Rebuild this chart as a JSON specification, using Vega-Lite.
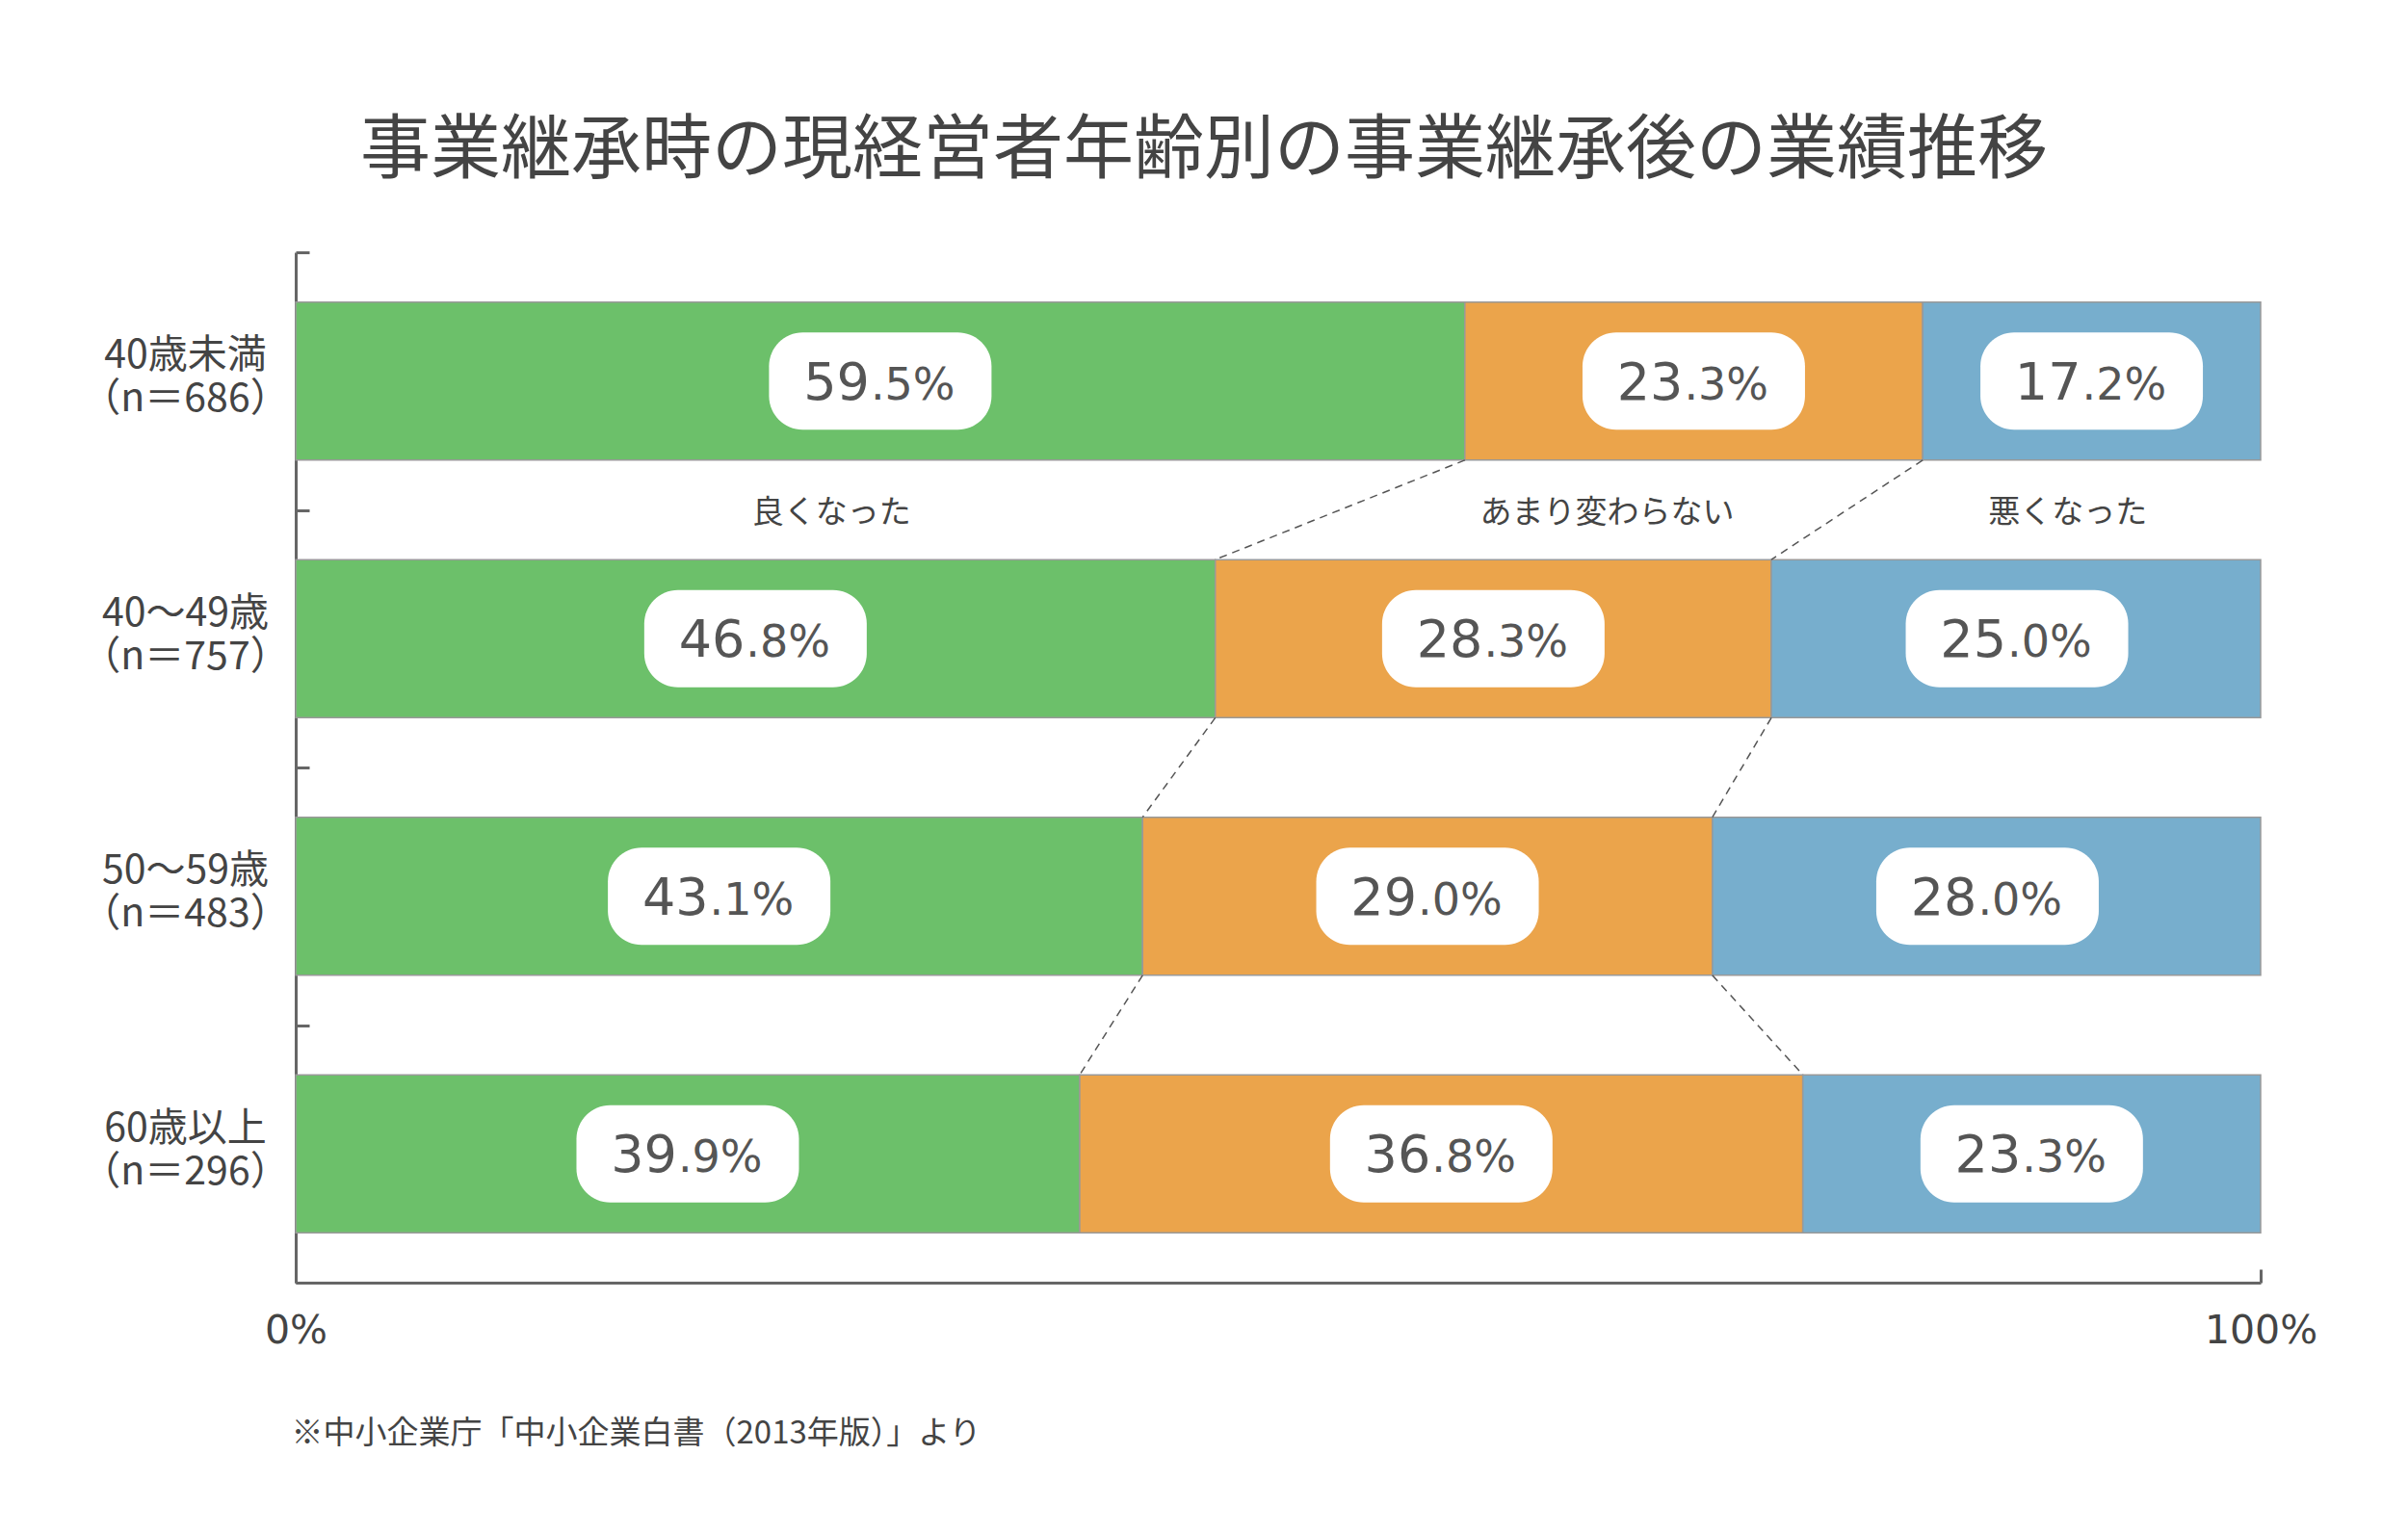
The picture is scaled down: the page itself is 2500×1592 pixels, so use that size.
{
  "$schema": "https://vega.github.io/schema/vega-lite/v6.json",
  "width": 2040,
  "height": 1070,
  "autosize": {"type": "none"},
  "padding": {"left": 307, "top": 262, "right": 153, "bottom": 260},
  "background": "white",
  "title": {
    "text": "事業継承時の現経営者年齢別の事業継承後の業績推移",
    "font": "Noto Sans CJK JP",
    "fontSize": 73,
    "fontWeight": "normal",
    "color": "#444444",
    "anchor": "middle",
    "dx": -77,
    "offset": -26,
    "baseline": "bottom"
  },
  "config": {"view": {"stroke": null}, "font": "Noto Sans CJK JP"},
  "data": {
    "values": [
      {"group": "40歳未満\n（n＝686）", "cat": "良くなった", "co": 1, "value": 59.5},
      {"group": "40歳未満\n（n＝686）", "cat": "あまり変わらない", "co": 2, "value": 23.3},
      {"group": "40歳未満\n（n＝686）", "cat": "悪くなった", "co": 3, "value": 17.2},
      {"group": "40～49歳\n（n＝757）", "cat": "良くなった", "co": 1, "value": 46.8},
      {"group": "40～49歳\n（n＝757）", "cat": "あまり変わらない", "co": 2, "value": 28.3},
      {"group": "40～49歳\n（n＝757）", "cat": "悪くなった", "co": 3, "value": 25.0},
      {"group": "50～59歳\n（n＝483）", "cat": "良くなった", "co": 1, "value": 43.1},
      {"group": "50～59歳\n（n＝483）", "cat": "あまり変わらない", "co": 2, "value": 29.0},
      {"group": "50～59歳\n（n＝483）", "cat": "悪くなった", "co": 3, "value": 28.0},
      {"group": "60歳以上\n（n＝296）", "cat": "良くなった", "co": 1, "value": 39.9},
      {"group": "60歳以上\n（n＝296）", "cat": "あまり変わらない", "co": 2, "value": 36.8},
      {"group": "60歳以上\n（n＝296）", "cat": "悪くなった", "co": 3, "value": 23.3}
    ]
  },
  "transform": [
    {"stack": "value", "groupby": ["group"], "sort": [{"field": "co", "order": "ascending"}], "as": ["x0", "x1"]},
    {"calculate": "(datum.x0 + datum.x1) / 2", "as": "mid"},
    {"window": [
      {"op": "lead", "field": "x1", "as": "nx1"},
      {"op": "lead", "field": "group", "as": "ng"},
      {"op": "lead", "field": "mid", "as": "nmid"},
      {"op": "row_number", "as": "rn"}
    ], "groupby": ["cat"], "sort": [{"field": "group", "order": "ascending"}]},
    {"calculate": "split(format(datum.value, '.1f'), '.')[0]", "as": "big"},
    {"calculate": "'.' + split(format(datum.value, '.1f'), '.')[1] + '%'", "as": "small"}
  ],
  "encoding": {
    "y": {
      "field": "group", "type": "nominal", "title": null,
      "scale": {"paddingInner": 0, "paddingOuter": 0},
      "axis": {
        "title": null,
        "labelExpr": "split(datum.label, '\\n')",
        "labelFont": "Noto Sans CJK JP",
        "labelFontSize": 41,
        "labelColor": "#444444",
        "labelAlign": "center",
        "labelBaseline": "middle",
        "labelLineHeight": 45,
        "labelLimit": 500,
        "labelOffset": -26,
        "labelPadding": 129,
        "tickBand": "extent",
        "tickSize": -14,
        "tickWidth": 3,
        "tickColor": "#666666",
        "domainColor": "#666666",
        "domainWidth": 3,
        "grid": false
      }
    },
    "x": {
      "field": "x0", "type": "quantitative",
      "scale": {"domain": [0, 100], "clamp": true, "nice": false},
      "axis": {
        "values": [0, 100],
        "labelExpr": "datum.value + '%'",
        "labelFont": "DejaVu Sans",
        "labelFontSize": 41,
        "labelColor": "#444444",
        "labelAlign": "center",
        "labelBaseline": "middle",
        "labelFlush": false,
        "labelPadding": 64,
        "tickSize": -14,
        "tickWidth": 3,
        "tickColor": "#666666",
        "domainColor": "#666666",
        "domainWidth": 3,
        "grid": false,
        "title": "※中小企業庁「中小企業白書（2013年版）」より",
        "titleFont": "Noto Sans CJK JP",
        "titleFontSize": 33,
        "titleFontWeight": "normal",
        "titleColor": "#444444",
        "titleAnchor": "start",
        "titleAlign": "left",
        "titleBaseline": "top",
        "titlePadding": 70,
        "titleX": -5
      }
    }
  },
  "layer": [
    {
      "mark": {"type": "bar", "height": {"band": 0.614}, "stroke": "#999999", "strokeWidth": 1.5},
      "encoding": {
        "x2": {"field": "x1"},
        "color": {
          "field": "cat", "type": "nominal", "legend": null,
          "scale": {"domain": ["良くなった", "あまり変わらない", "悪くなった"], "range": ["#6cc06a", "#eba44b", "#77aecd"]}
        }
      }
    },
    {
      "transform": [{"filter": "datum.ng != null && datum.cat != '悪くなった'"}],
      "mark": {"type": "rule", "color": "#555555", "strokeWidth": 1.5, "strokeDash": [8, 6]},
      "encoding": {
        "x": {"field": "x1", "type": "quantitative", "title": null},
        "x2": {"field": "nx1"},
        "y": {"field": "group", "type": "nominal", "bandPosition": 0.807, "title": null},
        "y2": {"field": "ng", "bandPosition": 0.193}
      }
    },
    {
      "transform": [{"aggregate": [{"op": "min", "field": "group", "as": "g0"}, {"op": "max", "field": "group", "as": "g1"}]}],
      "mark": {"type": "rule", "color": "#555555", "strokeWidth": 1.5, "strokeDash": [8, 6]},
      "encoding": {
        "x": {"datum": 100, "type": "quantitative"},
        "y": {"field": "g0", "type": "nominal", "bandPosition": 0.193, "title": null},
        "y2": {"field": "g1", "bandPosition": 1}
      }
    },
    {
      "mark": {
        "type": "point",
        "shape": "M -0.805 -0.505 L 0.805 -0.505 C 0.998 -0.505 1.155 -0.348 1.155 -0.155 L 1.155 0.155 C 1.155 0.348 0.998 0.505 0.805 0.505 L -0.805 0.505 C -0.998 0.505 -1.155 0.348 -1.155 0.155 L -1.155 -0.155 C -1.155 -0.348 -0.998 -0.505 -0.805 -0.505 Z",
        "size": 40000,
        "filled": true,
        "fill": "white",
        "opacity": 1,
        "strokeWidth": 0
      },
      "encoding": {
        "x": {"field": "mid", "type": "quantitative", "title": null}
      }
    },
    {
      "mark": {"type": "text", "align": "right", "baseline": "alphabetic", "dx": -11, "dy": 19, "font": "DejaVu Sans", "fontSize": 54, "color": "#555555"},
      "encoding": {
        "x": {"field": "mid", "type": "quantitative", "title": null},
        "text": {"field": "big"}
      }
    },
    {
      "mark": {"type": "text", "align": "left", "baseline": "alphabetic", "dx": -10, "dy": 19, "font": "DejaVu Sans", "fontSize": 46, "color": "#555555"},
      "encoding": {
        "x": {"field": "mid", "type": "quantitative", "title": null},
        "text": {"field": "small"}
      }
    },
    {
      "transform": [
        {"filter": "datum.rn == 1"},
        {"calculate": "(datum.mid + datum.nmid) / 2", "as": "lx"}
      ],
      "mark": {"type": "text", "align": "center", "baseline": "middle", "dx": 14, "dy": 3, "font": "Noto Sans CJK JP", "fontSize": 33, "color": "#444444"},
      "encoding": {
        "x": {"field": "lx", "type": "quantitative", "title": null},
        "y": {"field": "ng", "type": "nominal", "bandPosition": 0, "title": null},
        "text": {"field": "cat"}
      }
    }
  ]
}
